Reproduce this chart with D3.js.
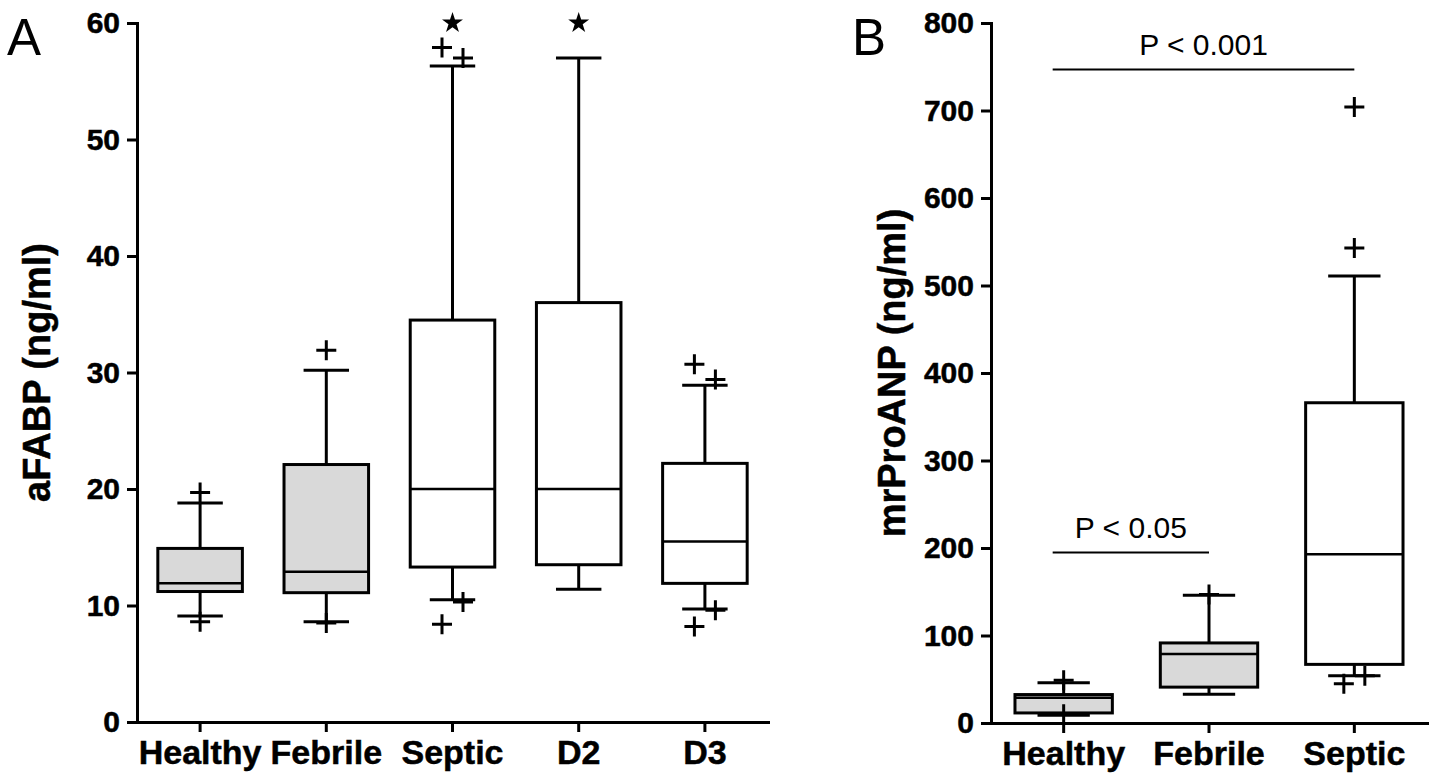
<!DOCTYPE html>
<html>
<head>
<meta charset="utf-8">
<script src="https://cdn.jsdelivr.net/npm/d3@7"></script>
<style>
  body { margin: 0; background: #fff; }
  svg text { font-family: "Liberation Sans", Arial, sans-serif; }
</style>
</head>
<body>
<svg id="chart" width="1440" height="773"></svg>
<script>
// ---- panel A: aFABP ----
const groupsA = ["Healthy", "Febrile", "Septic", "D2", "D3"];
const lowA  = [9.1, 8.6, 10.5, 11.4, 9.7];
const q1A   = [11.2, 11.1, 13.3, 13.5, 11.9];
const medA  = [11.9, 12.9, 20.0, 20.0, 15.5];
const q3A   = [14.9, 22.1, 34.5, 36.0, 22.2];
const highA = [18.8, 30.2, 56.3, 57.0, 28.9];
const outA  = [[19.7, 8.6], [31.9, 8.5], [57.9, 57.0, 8.4, 10.3], [], [30.7, 29.4, 8.2, 9.6]];
const starA = [null, null, 60, 60, null];   // points beyond the axis top
const greyA = [true, true, false, false, false];
const ticksA = [0, 10, 20, 30, 40, 50, 60];

// ---- panel B: mrProANP ----
const groupsB = ["Healthy", "Febrile", "Septic"];
const lowB  = [9, 33, 54];
const q1B   = [11.5, 41, 67];
const medB  = [29, 79, 193];
const q3B   = [32.5, 91.5, 366];
const highB = [46, 146, 511];
const outB  = [[49, 10], [147], [704, 543, 45, 54]];
const starB = [null, null, null];
const greyB = [true, true, false];
const ticksB = [0, 100, 200, 300, 400, 500, 600, 700, 800];
const bracketsB = [
  { from: "Healthy", to: "Septic", value: 747, label: "P < 0.001" },
  { from: "Healthy", to: "Febrile", value: 195, label: "P < 0.05" }
];

const svg = d3.select("#chart");
const plus = "M-10,0H10M0,-10V10";

function rows(groups, low, q1, med, q3, high, out, star, grey) {
  return groups.map((g, i) => ({
    name: g, low: low[i], q1: q1[i], med: med[i], q3: q3[i], high: high[i],
    out: out[i], star: star[i], grey: grey[i]
  }));
}

// spread outliers that would overlap; the one farthest from the box goes left
function placeOutliers(d, y) {
  const res = [];
  ["hi", "lo"].forEach(side => {
    const pts = d.out.filter(v => side === "hi" ? v > d.q3 : v < d.q1)
      .sort((a, b) => side === "hi" ? b - a : a - b);
    const clusters = [];
    pts.forEach(v => {
      const last = clusters[clusters.length - 1];
      if (last && Math.abs(y(last[last.length - 1]) - y(v)) < 25) last.push(v);
      else clusters.push([v]);
    });
    clusters.forEach(c => c.forEach((v, i) => res.push({ v, dx: (i - (c.length - 1) / 2) * 21 })));
  });
  return res;
}

function drawPanel(data, x, y, ticks, title, titleX, letter, letterX) {
  const bw = x.bandwidth();
  const cx = d => x(d.name) + bw / 2;
  const boxW = bw * 0.67, capW = bw * 0.36;

  const xAxis = svg.append("g")
    .attr("transform", `translate(0,${y.range()[0]})`)
    .call(d3.axisBottom(x).tickSize(10).tickSizeOuter(0).tickPadding(8));
  const yAxis = svg.append("g")
    .attr("transform", `translate(${x.range()[0]},0)`)
    .call(d3.axisLeft(y).tickValues(ticks).tickSize(10).tickSizeOuter(0).tickPadding(7));

  [xAxis, yAxis].forEach(a => {
    a.select(".domain").attr("stroke-width", 3).attr("stroke-linecap", "square");
    a.selectAll(".tick line").attr("stroke-width", 3);
    a.selectAll("text").attr("fill", "#000")
      .attr("stroke", "#000").attr("stroke-width", 0.5)
      .style("font-weight", "bold")
      .style("font-family", "'Liberation Sans', Arial, sans-serif");
  });
  xAxis.selectAll("text").style("font-size", "34px");
  yAxis.selectAll("text").style("font-size", "30px");

  const g = svg.selectAll(null).data(data).enter().append("g");

  // whiskers
  g.append("line")
    .attr("x1", cx).attr("x2", cx)
    .attr("y1", d => y(d.q3)).attr("y2", d => y(d.high))
    .attr("stroke", "#000").attr("stroke-width", 3);
  g.append("line")
    .attr("x1", cx).attr("x2", cx)
    .attr("y1", d => y(d.q1)).attr("y2", d => y(d.low))
    .attr("stroke", "#000").attr("stroke-width", 3);
  ["high", "low"].forEach(k => {
    g.append("line")
      .attr("x1", d => cx(d) - capW / 2).attr("x2", d => cx(d) + capW / 2)
      .attr("y1", d => y(d[k])).attr("y2", d => y(d[k]))
      .attr("stroke", "#000").attr("stroke-width", 3);
  });

  // box
  g.append("rect")
    .attr("x", d => cx(d) - boxW / 2)
    .attr("width", boxW)
    .attr("y", d => y(d.q3))
    .attr("height", d => y(d.q1) - y(d.q3))
    .attr("fill", d => d.grey ? "#d9d9d9" : "#fff")
    .attr("stroke", "#000").attr("stroke-width", 3);
  g.append("line")
    .attr("x1", d => cx(d) - boxW / 2).attr("x2", d => cx(d) + boxW / 2)
    .attr("y1", d => y(d.med)).attr("y2", d => y(d.med))
    .attr("stroke", "#000").attr("stroke-width", 2.5);

  // outliers
  g.each(function(d) {
    d3.select(this).selectAll("path.out")
      .data(placeOutliers(d, y)).enter().append("path")
      .attr("class", "out")
      .attr("d", plus)
      .attr("transform", p => `translate(${cx(d) + p.dx},${y(p.v)})`)
      .attr("stroke", "#000").attr("stroke-width", 3).attr("fill", "none");
  });
  g.filter(d => d.star != null).append("path")
    .attr("d", d3.symbol(d3.symbolStar, 136))
    .attr("transform", d => `translate(${cx(d)},${y(d.star)})`)
    .attr("fill", "#000");

  svg.append("text")
    .attr("transform", `translate(${titleX},${(y.range()[0] + y.range()[1]) / 2}) rotate(-90)`)
    .attr("text-anchor", "middle")
    .attr("stroke", "#000").attr("stroke-width", 0.5)
    .style("font-size", "38px").style("font-weight", "bold")
    .text(title);

  svg.append("text")
    .attr("x", letterX).attr("y", 55)
    .style("font-size", "51px")
    .text(letter);
}

const xA = d3.scaleBand().domain(groupsA).range([137, 768]);
const yA = d3.scaleLinear().domain([0, 60]).range([722, 23]);
drawPanel(rows(groupsA, lowA, q1A, medA, q3A, highA, outA, starA, greyA),
  xA, yA, ticksA, "aFABP (ng/ml)", 50, "A", 7);

const xB = d3.scaleBand().domain(groupsB).range([991, 1427]);
const yB = d3.scaleLinear().domain([0, 800]).range([723, 23]);
drawPanel(rows(groupsB, lowB, q1B, medB, q3B, highB, outB, starB, greyB),
  xB, yB, ticksB, "mrProANP (ng/ml)", 905, "B", 852);

// significance brackets
const bwB = xB.bandwidth();
bracketsB.forEach(b => {
  const x1 = xB(b.from) + bwB / 2 - 11, x2 = xB(b.to) + bwB / 2;
  svg.append("line")
    .attr("x1", x1).attr("x2", x2)
    .attr("y1", yB(b.value)).attr("y2", yB(b.value))
    .attr("stroke", "#000").attr("stroke-width", 2);
  svg.append("text")
    .attr("x", (x1 + x2) / 2).attr("y", yB(b.value) - 14)
    .attr("text-anchor", "middle")
    .style("font-size", "30px")
    .text(b.label);
});
</script>
</body>
</html>
